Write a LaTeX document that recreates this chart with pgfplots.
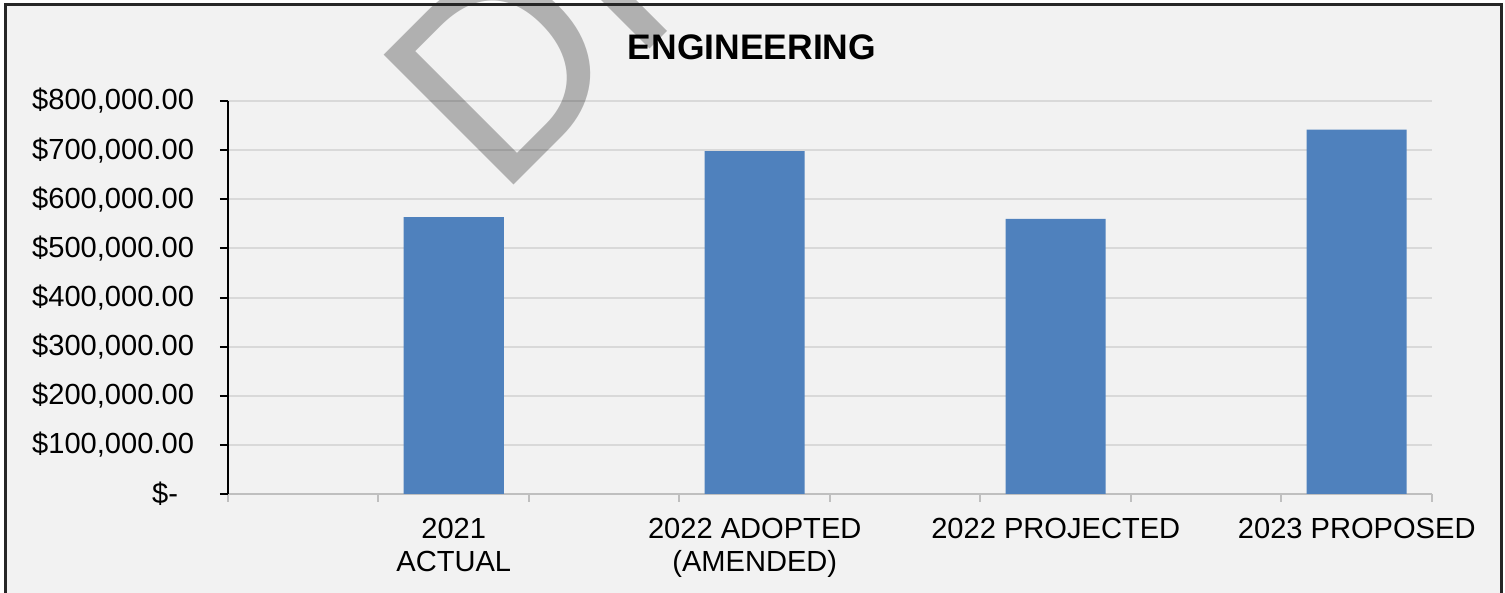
\documentclass[border=0pt]{standalone}
\usepackage{pgfplots}
\pgfplotsset{compat=1.18}
\usepackage{fontspec}
\setmainfont{Liberation Sans}
\definecolor{bg}{HTML}{F2F2F2}
\definecolor{barblue}{HTML}{4F81BD}
\definecolor{gridgray}{HTML}{D9D9D9}
\definecolor{axisgray}{HTML}{BFBFBF}
\definecolor{framec}{HTML}{262626}
\begin{document}
\begin{tikzpicture}
\fill[white] (0,0) rectangle (752.5bp,296.5bp);
\fill[bg] (2.5bp,0) rectangle (750.5bp,294bp);
\begin{axis}[
  at={(114bp,49.5bp)}, anchor=south west,
  scale only axis, width=602bp, height=196.5bp,
  xmin=-0.5, xmax=7.5, ymin=0, ymax=800000,
  scaled y ticks=false,
  axis x line*=bottom, axis y line*=left,
  x axis line style={axisgray, line width=1bp},
  y axis line style={black, line width=1bp},
  xtick={1,3,5,7},
  xticklabels={{2021\\ACTUAL},{2022 ADOPTED\\(AMENDED)},{2022 PROJECTED},{2023 PROPOSED}},
  minor xtick={-0.5,0.5,...,7.5},
  ytick={0,100000,200000,300000,400000,500000,600000,700000,800000},
  yticklabels={{\$-\hspace*{8bp}},{\$100,000.00},{\$200,000.00},{\$300,000.00},{\$400,000.00},{\$500,000.00},{\$600,000.00},{\$700,000.00},{\$800,000.00}},
  ymajorgrids, grid style={gridgray, line width=1bp},
  tick align=outside,
  major tick length=4bp, minor tick length=4bp,
  major x tick style={draw=none},
  minor x tick style={axisgray, line width=1bp},
  major y tick style={black, line width=1bp},
  yticklabel style={font=\fontsize{14.6}{17}\selectfont, anchor=east, xshift=-9.5bp},
  xticklabel style={font=\fontsize{14.6}{16.5}\selectfont, align=center, anchor=north, yshift=-4.5bp},
]
\addplot[ybar, bar width=50bp, fill=barblue, draw=none] coordinates {(1,563500) (3,698000) (5,560000) (7,742000)};
\end{axis}
\node[font=\bfseries\fontsize{17.8}{20}\selectfont] at (376bp,273bp) {ENGINEERING};
\begin{scope}
\clip (0,0) rectangle (752.5bp,296.5bp);
\node[rotate=45, anchor=base west, inner sep=0, text=black, text opacity=0.27, font=\fontsize{134}{140}\selectfont] at (249bp,196bp) {DR};
\draw[framec, line width=1.5bp] (2.5bp,-5bp) rectangle (750.5bp,294bp);
\end{scope}
\pgfresetboundingbox
\useasboundingbox (0,0) rectangle (752.5bp,296.5bp);
\end{tikzpicture}
\end{document}
